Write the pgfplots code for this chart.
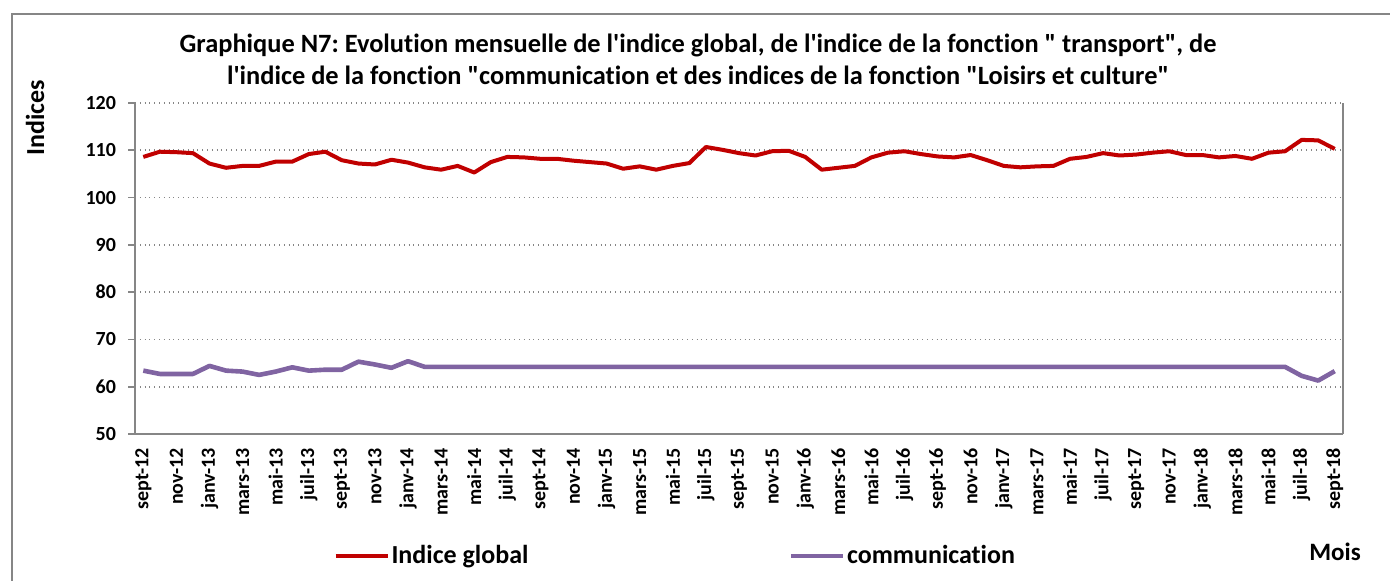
\documentclass[border=0pt]{standalone}
\usepackage{pgfplots}
\pgfplotsset{compat=1.18}
\usepackage{pgfplotstable}
\usepackage{fontspec}
\setmainfont{Carlito}[Ligatures={TeXOff,NoCommon}]
\frenchspacing
\definecolor{cred}{RGB}{192,0,0}
\definecolor{cpurple}{RGB}{128,100,162}
\definecolor{axgray}{RGB}{134,134,134}
\pgfplotstableread{
i glob comm
0 108.6 63.4
1 109.7 62.7
2 109.6 62.7
3 109.4 62.7
4 107.2 64.4
5 106.3 63.4
6 106.7 63.2
7 106.7 62.5
8 107.6 63.2
9 107.6 64.1
10 109.2 63.4
11 109.7 63.6
12 107.9 63.6
13 107.2 65.3
14 107.0 64.7
15 108.0 64.0
16 107.4 65.4
17 106.4 64.2
18 105.9 64.2
19 106.7 64.2
20 105.3 64.2
21 107.5 64.2
22 108.6 64.2
23 108.5 64.2
24 108.2 64.2
25 108.2 64.2
26 107.8 64.2
27 107.5 64.2
28 107.2 64.2
29 106.1 64.2
30 106.6 64.2
31 105.9 64.2
32 106.7 64.2
33 107.3 64.2
34 110.7 64.2
35 110.1 64.2
36 109.4 64.2
37 108.9 64.2
38 109.8 64.2
39 109.9 64.2
40 108.6 64.2
41 105.9 64.2
42 106.3 64.2
43 106.7 64.2
44 108.5 64.2
45 109.5 64.2
46 109.8 64.2
47 109.2 64.2
48 108.7 64.2
49 108.5 64.2
50 109.0 64.2
51 107.9 64.2
52 106.7 64.2
53 106.4 64.2
54 106.6 64.2
55 106.7 64.2
56 108.2 64.2
57 108.6 64.2
58 109.4 64.2
59 108.9 64.2
60 109.1 64.2
61 109.5 64.2
62 109.8 64.2
63 109.0 64.2
64 109.0 64.2
65 108.5 64.2
66 108.8 64.2
67 108.2 64.2
68 109.5 64.2
69 109.8 64.2
70 112.2 62.3
71 112.1 61.3
72 110.3 63.3
}\datatable
\begin{document}
\begin{tikzpicture}
\useasboundingbox (0,0) rectangle (695pt,290pt);
\draw[axgray, line width=0.8pt] (6pt,-10pt) -- (6pt,283pt) -- (710pt,283pt);
\begin{axis}[
  at={(67.5pt,73pt)}, anchor=south west,
  scale only axis, width=604pt, height=165.5pt,
  xmin=-0.5, xmax=72.5, ymin=50, ymax=120,
  axis x line*=bottom, axis y line*=left,
  axis line style={axgray, line width=0.8pt},
  tick style={axgray, line width=0.8pt},
  tick align=outside,
  ytick={50,60,...,120},
  ymajorgrids=true,
  grid style={axgray, dotted, line width=0.8pt},
  major tick length=3.5pt, minor tick length=3.5pt,
  xtick={0,2,...,72},
  x tick style={draw=none},
  minor xtick={-0.5,0.5,...,72.5},
  minor x tick style={axgray, line width=0.8pt},
  xticklabels={sept-12,nov-12,janv-13,mars-13,mai-13,juil-13,sept-13,nov-13,janv-14,mars-14,mai-14,juil-14,sept-14,nov-14,janv-15,mars-15,mai-15,juil-15,sept-15,nov-15,janv-16,mars-16,mai-16,juil-16,sept-16,nov-16,janv-17,mars-17,mai-17,juil-17,sept-17,nov-17,janv-18,mars-18,mai-18,juil-18,sept-18},
  xticklabel style={rotate=90, anchor=east, font=\fontsize{10}{12}\selectfont\bfseries},
  yticklabel style={font=\fontsize{10}{12}\selectfont\bfseries, xshift=-2.5pt},
  /pgf/number format/assume math mode=true,
  legend style={at={(axis description cs:0.164,-0.369)}, anchor=west, draw=none, fill=none,
    inner sep=0pt, legend columns=2,
    font=\fontsize{13}{15}\selectfont\bfseries,
    nodes={inner sep=1pt},
    /tikz/every even column/.append style={column sep=129pt}},
  legend image code/.code={\draw[#1] (0pt,0pt) -- (26pt,0pt);},
  clip=false,
]
\addplot[cred, line width=2pt, line join=round] table[x=i, y=glob] {\datatable};
\addlegendentry{Indice global}
\addplot[cpurple, line width=2.3pt, line join=round] table[x=i, y=comm] {\datatable};
\addlegendentry{communication}
\draw[axgray, line width=0.8pt] (rel axis cs:1,0) -- (rel axis cs:1,1);
\end{axis}
\node[font=\fontsize{13.2}{15}\selectfont\bfseries] at (349pt,267.5pt) {Graphique N7: Evolution mensuelle de l'indice global, de l'indice de la fonction " transport", de};
\node[font=\fontsize{13.2}{15}\selectfont\bfseries] at (349pt,252.5pt) {l'indice de la fonction "communication et des indices de la fonction "Loisirs et culture"};
\node[font=\fontsize{13}{15}\selectfont\bfseries, rotate=90] at (17.5pt,231pt) {Indices};
\node[font=\fontsize{12.5}{15}\selectfont\bfseries] at (667.5pt,14pt) {Mois};
\end{tikzpicture}
\end{document}
